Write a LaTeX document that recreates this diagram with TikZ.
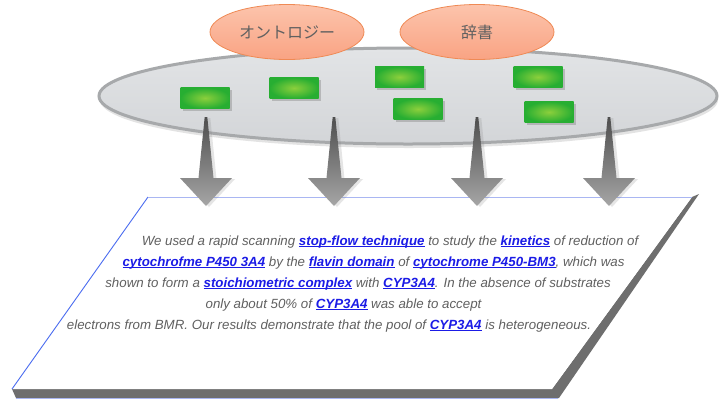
\documentclass[tikz,border=0pt]{standalone}
\usepackage{fontspec}
\setmainfont{Liberation Sans}[ItalicFont={Liberation Sans Italic}, BoldFont={Liberation Sans Bold}, BoldItalicFont={Liberation Sans Bold Italic}]
\newfontfamily\jpfont{Noto Sans CJK JP}
\newfontfamily\bodyit{Liberation Sans Italic}
\newfontfamily\bodybit{Liberation Sans Bold Italic}
\usetikzlibrary{shapes.geometric,shadows}
\definecolor{txtgray}{HTML}{606060}
\definecolor{linkblue}{HTML}{1B1BE6}
\definecolor{salmonA}{HTML}{FCC4AC}
\definecolor{salmonB}{HTML}{F9A383}
\definecolor{salmonEdge}{HTML}{EF8A55}
\definecolor{poolA}{HTML}{E2E4E6}
\definecolor{poolB}{HTML}{D3D5D8}
\definecolor{poolEdge}{HTML}{A7A9AB}
\definecolor{greenIn}{HTML}{8CCF3C}
\definecolor{greenOut}{HTML}{27AE32}
\definecolor{arrowA}{HTML}{4E4E4E}
\definecolor{arrowB}{HTML}{A6A6A6}
\definecolor{bandgray}{HTML}{6E6E6E}
\definecolor{edgeblue}{HTML}{4A6CF0}
\definecolor{edgeblueL}{HTML}{A9B6F2}
\newsavebox\lkbox
\newcommand\lk[1]{\sbox\lkbox{\bodybit #1}{\color{linkblue}\rlap{\rule[-2.2pt]{\wd\lkbox}{0.75pt}}\bodybit #1}}
\tikzset{
  tagell/.style={ellipse, minimum width=154, minimum height=55, inner sep=0,
    top color=salmonA, bottom color=salmonB, draw=salmonEdge, line width=0.8pt,
    font=\jpfont\fontsize{16}{18}\selectfont, text=txtgray},
  poolell/.style={ellipse, minimum width=618, minimum height=96, inner sep=0,
    top color=poolA, bottom color=poolB, draw=poolEdge, line width=3pt,
    drop shadow={opacity=0.22, shadow xshift=1pt, shadow yshift=-4pt}},
  gbox/.style={rectangle, minimum width=49, minimum height=21, inner sep=0,
    inner color=greenIn, outer color=greenOut,
    drop shadow={opacity=0.4, shadow xshift=2pt, shadow yshift=-2pt}},
  blockarrow/.style={top color=arrowA, bottom color=arrowB,
    drop shadow={opacity=0.2, shadow xshift=3pt, shadow yshift=-1pt}},
  txtline/.style={anchor=base, inner sep=0, text=txtgray,
    font=\bodyit\fontsize{13.3}{15}\selectfont}
}
\begin{document}
\begin{tikzpicture}[x=1pt,y=-1pt]
\useasboundingbox (0,0) rectangle (728,400);
\fill[white] (0,0) rectangle (728,400);

% pool of terms
\node[poolell] (pool) at (408,96) {};
\node[tagell] (onto) at (287,32) {オントロジー};
\node[tagell] (dict) at (477,32) {辞書};

\node[gbox] (g1) at (205,98) {};
\node[gbox] (g2) at (294,88) {};
\node[gbox] (g3) at (399.5,77) {};
\node[gbox] (g4) at (418,109) {};
\node[gbox] (g5) at (538,77) {};
\node[gbox] (g6) at (549,112) {};

% slab with text
\fill[bandgray] (692,197) -- (699,194) -- (559,398) -- (16,398) -- (12,389) -- (552,389) -- cycle;
\draw[edgeblueL, line width=0.8pt] (16,398.6) -- (558,398.6);
\fill[white] (148,197) -- (692,197) -- (552,389) -- (12,389) -- cycle;
\coordinate (slabTL) at (148,197);
\coordinate (slabTR) at (692,197);
\coordinate (slabBL) at (12,389);
\draw[edgeblue, line width=0.9pt] (slabBL) -- (slabTL);
\draw[edgeblueL, line width=0.8pt] (slabTL) -- (slabTR);

\node[txtline] (l1) at (390,245) {We used a rapid scanning \lk{stop-flow technique} to study the \lk{kinetics} of reduction of};
\node[txtline] (l2) at (373.5,266) {\lk{cytochrofme P450 3A4} by the \lk{flavin domain} of \lk{cytochrome P450-BM3}, which was};
\node[txtline] (l3) at (358,287) {shown to form a \lk{stoichiometric complex} with \lk{CYP3A4}. In the absence of substrates};
\node[txtline] (l4) at (343.5,308) {only about 50\% of \lk{CYP3A4} was able to accept};
\node[txtline] (l5) at (329,329) {electrons from BMR. Our results demonstrate that the pool of \lk{CYP3A4} is heterogeneous.};

% arrows from the pool to the text
\foreach \ax [count=\i] in {206,334,477,609}{
  \coordinate (a\i) at (\ax,117);
  \begin{scope}[shift={(a\i)}]
    \path[blockarrow] (-1.3,0) -- (1.3,0) -- (7.5,61) -- (26,61) -- (0,89) -- (-26,61) -- (-7.5,61) -- cycle;
  \end{scope}
}
\end{tikzpicture}
\end{document}
